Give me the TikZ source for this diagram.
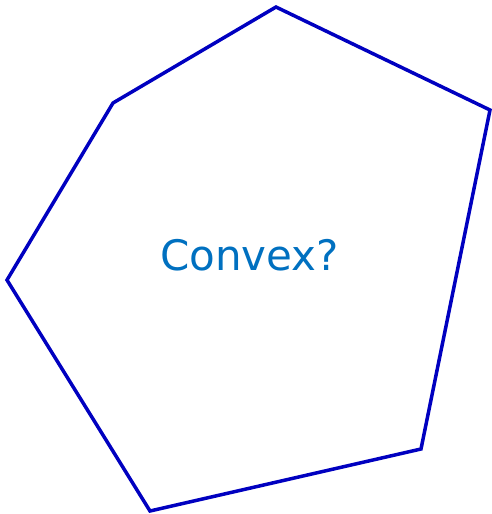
\documentclass[tikz,border=0pt]{standalone}
\usepackage{fontspec}
\setmainfont{DejaVu Sans}
\definecolor{polyblue}{RGB}{0,0,192}
\definecolor{textblue}{RGB}{0,112,192}
\begin{document}
\begin{tikzpicture}[x=1pt,y=-1pt,
  poly/.style={draw=polyblue,line width=3.5pt,line join=miter},
  label/.style={text=textblue,font=\fontsize{42}{48}\selectfont,inner sep=0pt,anchor=base}]
\useasboundingbox (0,0) rectangle (492,514);
\coordinate (a) at (276,7);
\coordinate (b) at (490,110);
\coordinate (c) at (421,449);
\coordinate (d) at (150,511);
\coordinate (e) at (7,280);
\coordinate (f) at (113,103);
\draw[poly] (a) -- (b) -- (c) -- (d) -- (e) -- (f) -- cycle;
\node[label] (t) at (249.5,270) {Convex?};
\end{tikzpicture}
\end{document}
